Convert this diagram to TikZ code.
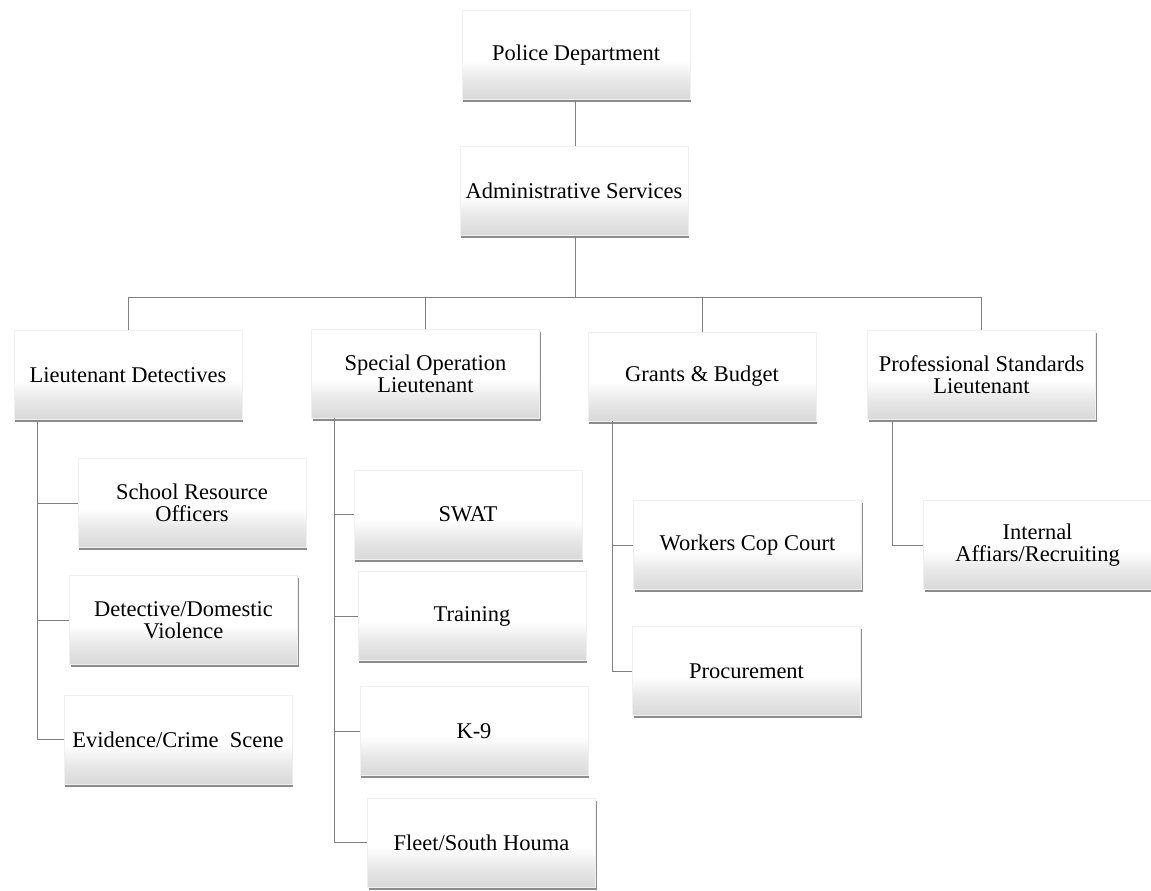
\documentclass[tikz,border=0pt]{standalone}
\usepackage{fontspec}
\setmainfont{Liberation Serif}
\usepackage{tikz}
\usetikzlibrary{shadows, positioning}

\pgfdeclareverticalshading{unitshade}{100bp}{%
  color(0bp)=(black!15); color(25bp)=(black!15); color(36bp)=(black!9);
  color(47bp)=(white); color(100bp)=(white)}

\begin{document}
\begin{tikzpicture}[
    x=0.02cm, y=-0.02cm,
    unit/.style={
        rectangle, draw=black!6, thin,
        shading=unitshade,
        drop shadow={shadow xshift=0.6pt, shadow yshift=-1.6pt,
                     opacity=0.6, fill=black!75},
        minimum width=4.56cm, minimum height=1.78cm, inner sep=0pt,
        text centered, align=center,
        font=\fontsize{12.8}{12.6}\selectfont
    },
    link/.style={draw=black!50, line width=0.55pt},
]
\useasboundingbox (0,0) rectangle (1151,890);

%% Vertice
\node[unit] (police) at (576,55) {Police Department};
\node[unit] (admin) at (574,191) {Administrative Services};

%% Secondo livello
\node[unit] (ltdet) at (128,375) {Lieutenant Detectives};
\node[unit] (special) at (425.5,374) {Special Operation\\Lieutenant};
\node[unit] (grants) at (702,376.5) {Grants \& Budget};
\node[unit] (prof) at (981.5,374.5) {Professional Standards\\Lieutenant};

%% Sotto Lieutenant Detectives
\node[unit] (school) at (192,503) {School Resource\\Officers};
\node[unit] (domestic) at (183.5,620) {Detective/Domestic\\Violence};
\node[unit] (evidence) at (178,739.5) {Evidence/Crime\ \ Scene};

%% Sotto Special Operation
\node[unit] (swat) at (468,514.5) {SWAT};
\node[unit] (training) at (472,616) {Training};
\node[unit] (k9) at (474,731) {K-9};
\node[unit] (fleet) at (481.5,842.5) {Fleet/South Houma};

%% Sotto Grants & Budget
\node[unit] (workers) at (747.5,545) {Workers Cop Court};
\node[unit] (procure) at (746.5,671) {Procurement};

%% Sotto Professional Standards
\node[unit] (internal) at (1037.5,545) {Internal\\Affiars/Recruiting};

%% Punti di snodo
\coordinate (bus) at (575,297);
\coordinate (ltspine) at (37,420);
\coordinate (spspine) at (334,418);
\coordinate (grspine) at (612,421);
\coordinate (prspine) at (892,420);

%% Linee principali
\draw[link] (police.south -| bus) -- (admin.north -| bus);
\draw[link] (admin.south -| bus) -- (bus);
\draw[link] (ltdet.north) |- (bus) -| (prof.north);
\draw[link] (special.north) -- (special.north |- bus);
\draw[link] (grants.north) -- (grants.north |- bus);

%% Rami verso i sottoposti
\draw[link] (ltspine) |- (school.west);
\draw[link] (ltspine) |- (domestic.west);
\draw[link] (ltspine) |- (evidence.west);
\draw[link] (spspine) |- (swat.west);
\draw[link] (spspine) |- (training.west);
\draw[link] (spspine) |- (k9.west);
\draw[link] (spspine) |- (fleet.west);
\draw[link] (grspine) |- (workers.west);
\draw[link] (grspine) |- (procure.west);
\draw[link] (prspine) |- (internal.west);

\end{tikzpicture}
\end{document}
